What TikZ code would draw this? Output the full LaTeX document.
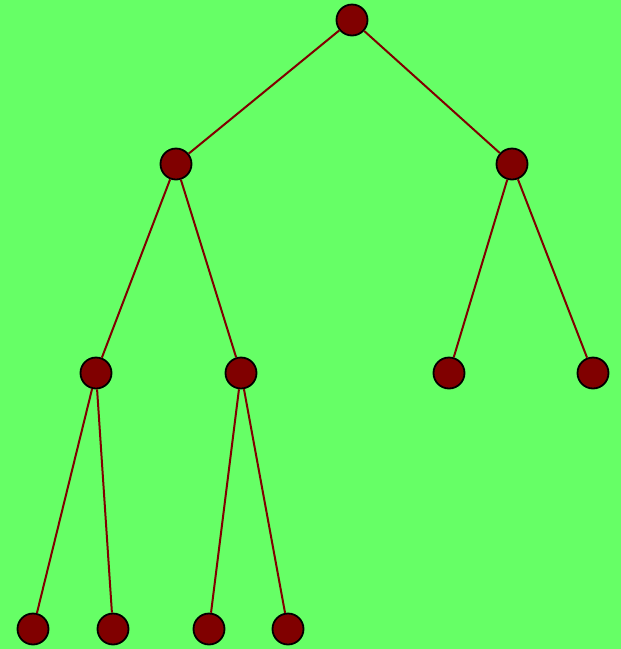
\documentclass[tikz,border=0pt]{standalone}
\begin{document}
\begin{tikzpicture}[x=1pt,y=-1pt,
  tnode/.style={circle,draw=black,fill=treered,line width=1.8pt,minimum size=31pt,inner sep=0pt},
  tedge/.style={draw=treered,line width=2pt}]
\definecolor{bggreen}{HTML}{66FF66}
\definecolor{treered}{HTML}{800000}
\fill[bggreen] (0,0) rectangle (621,649);
\useasboundingbox (0,0) rectangle (621,649);
\node[tnode] (r) at (352,20) {};
\node[tnode] (a) at (176,164) {};
\node[tnode] (b) at (512,164) {};
\node[tnode] (aa) at (96,373) {};
\node[tnode] (ab) at (241,373) {};
\node[tnode] (ba) at (449,373) {};
\node[tnode] (bb) at (593,373) {};
\node[tnode] (aaa) at (33,629) {};
\node[tnode] (aab) at (113,629) {};
\node[tnode] (aba) at (209,629) {};
\node[tnode] (abb) at (288,629) {};
\draw[tedge] (r) -- (a);
\draw[tedge] (r) -- (b);
\draw[tedge] (a) -- (aa);
\draw[tedge] (a) -- (ab);
\draw[tedge] (b) -- (ba);
\draw[tedge] (b) -- (bb);
\draw[tedge] (aa) -- (aaa);
\draw[tedge] (aa) -- (aab);
\draw[tedge] (ab) -- (aba);
\draw[tedge] (ab) -- (abb);
\end{tikzpicture}
\end{document}
